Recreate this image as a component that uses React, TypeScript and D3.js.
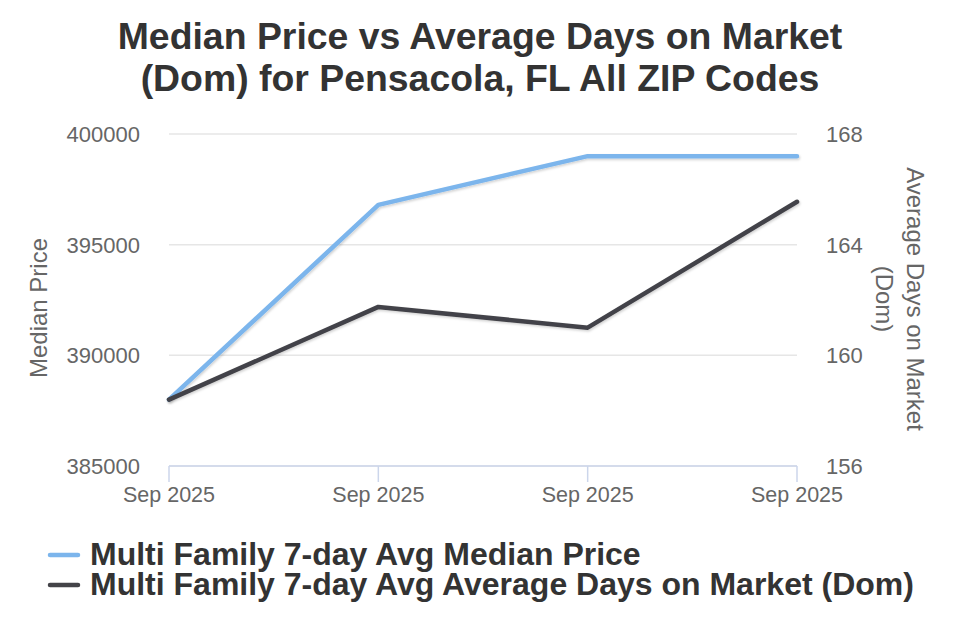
import * as d3 from "d3";

const categories = ["Sep 2025", "Sep 2025", "Sep 2025", "Sep 2025"];
const medianPrice = [388000, 396800, 399000, 399000];
const avgDom = [158.4, 161.75, 161.0, 165.55];
const priceTicks = [385000, 390000, 395000, 400000];
const domTicks = [156, 160, 164, 168];

const W = 960;
const H = 640;
const margin = { top: 134, right: 163, bottom: 174, left: 169 };
const font = "'Liberation Sans', Arial, Helvetica, sans-serif";

export default function App() {
  const x = d3
    .scalePoint<number>()
    .domain(categories.map((_, i) => i))
    .range([margin.left, W - margin.right]);
  const yLeft = d3
    .scaleLinear()
    .domain([385000, 400000])
    .range([H - margin.bottom, margin.top]);
  const yRight = d3
    .scaleLinear()
    .domain([156, 168])
    .range([H - margin.bottom, margin.top]);

  const priceLine = d3
    .line<number>()
    .x((_, i) => x(i) as number)
    .y((d) => yLeft(d));
  const domLine = d3
    .line<number>()
    .x((_, i) => x(i) as number)
    .y((d) => yRight(d));

  const bottom = H - margin.bottom;
  const midY = (margin.top + bottom) / 2;

  return (
    <svg
      width={W}
      height={H}
      style={{ position: "absolute", left: 0, top: 0, background: "#fff" }}
      fontFamily={font}
    >
      <defs>
        <filter id="shadow" x="-10%" y="-10%" width="120%" height="130%">
          <feDropShadow dx="1" dy="1.5" stdDeviation="1.2" floodColor="#000" floodOpacity="0.18" />
        </filter>
      </defs>

      {/* title */}
      <text x={W / 2} y={49} textAnchor="middle" fontSize={37.4} fontWeight="bold" fill="#333333">
        <tspan x={W / 2}>Median Price vs Average Days on Market</tspan>
        <tspan x={W / 2} dy={42}>(Dom) for Pensacola, FL All ZIP Codes</tspan>
      </text>

      {/* grid */}
      {priceTicks.map((t) => (
        <line
          key={"g" + t}
          x1={margin.left}
          x2={W - margin.right}
          y1={yLeft(t)}
          y2={yLeft(t)}
          stroke="#e6e6e6"
          strokeWidth={1.5}
        />
      ))}

      {/* x axis */}
      <line x1={margin.left} x2={W - margin.right} y1={bottom} y2={bottom} stroke="#ccd6eb" strokeWidth={1.5} />
      {categories.map((c, i) => (
        <g key={"x" + i}>
          <line
            x1={x(i)}
            x2={x(i)}
            y1={bottom}
            y2={bottom + 16}
            stroke="#ccd6eb"
            strokeWidth={1.5}
          />
          <text x={x(i)} y={502} textAnchor="middle" fontSize={21.5} fill="#666666">
            {c}
          </text>
        </g>
      ))}

      {/* left axis */}
      {priceTicks.map((t) => (
        <text key={"l" + t} x={140} y={yLeft(t) + 8} textAnchor="end" fontSize={22} fill="#666666">
          {t}
        </text>
      ))}
      <text
        transform={`translate(47,${midY + 8}) rotate(-90)`}
        textAnchor="middle"
        fontSize={24}
        fill="#666666"
      >
        Median Price
      </text>

      {/* right axis */}
      {domTicks.map((t) => (
        <text key={"r" + t} x={826} y={yRight(t) + 8} textAnchor="start" fontSize={22} fill="#666666">
          {t}
        </text>
      ))}
      <text
        transform={`translate(907,${midY - 1}) rotate(90)`}
        textAnchor="middle"
        fontSize={24}
        fill="#666666"
      >
        <tspan x={0}>Average Days on Market</tspan>
        <tspan x={0} dy={31}>(Dom)</tspan>
      </text>

      {/* series */}
      <path
        d={priceLine(medianPrice) ?? ""}
        fill="none"
        stroke="#7cb5ec"
        strokeWidth={4.5}
        strokeLinejoin="round"
        strokeLinecap="round"
        filter="url(#shadow)"
      />
      <path
        d={domLine(avgDom) ?? ""}
        fill="none"
        stroke="#434348"
        strokeWidth={4.5}
        strokeLinejoin="round"
        strokeLinecap="round"
        filter="url(#shadow)"
      />

      {/* legend */}
      <g>
        <line x1={50} x2={78} y1={555} y2={555} stroke="#7cb5ec" strokeWidth={4.5} strokeLinecap="round" />
        <text x={90} y={565} fontSize={32} fontWeight="bold" fill="#333333">
          Multi Family 7-day Avg Median Price
        </text>
        <line x1={50} x2={78} y1={585} y2={585} stroke="#434348" strokeWidth={4.5} strokeLinecap="round" />
        <text x={90} y={595} fontSize={32} fontWeight="bold" fill="#333333">
          Multi Family 7-day Avg Average Days on Market (Dom)
        </text>
      </g>
    </svg>
  );
}
